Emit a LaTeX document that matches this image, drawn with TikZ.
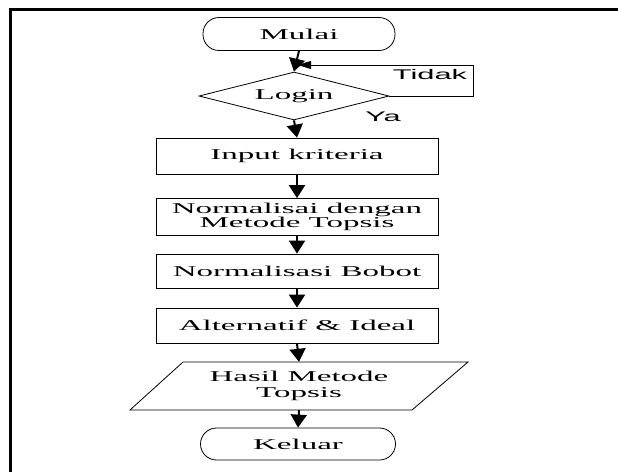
\documentclass[tikz,border=0pt]{standalone}
\usepackage{fontspec}
\setmainfont{Liberation Serif}[FakeStretch=2.2]
\newfontfamily\widesans{Liberation Sans}[FakeStretch=2.2]
\usetikzlibrary{shapes.geometric,arrows.meta}
\tikzset{
  base/.style={draw=black, line width=0.8pt, inner sep=0pt, align=center,
    font=\fontsize{15}{14.5}\selectfont},
  procbox/.style={base, rectangle, minimum width=282pt},
  term/.style={base, rectangle, rounded corners=16pt},
  decide/.style={base, diamond, aspect=4, minimum width=190pt, minimum height=48pt},
  flow/.style={line width=2pt, -{Triangle[width=16pt,length=13pt]}},
  loopline/.style={line width=0.9pt, -{Triangle[width=8pt,length=13pt]}},
  lbl/.style={font=\widesans\fontsize{14}{14}\selectfont, inner sep=0pt}
}
\begin{document}
\begin{tikzpicture}[x=1pt,y=-1pt]
\useasboundingbox (0,0) rectangle (618,472);
\fill[white] (0,0) rectangle (618,472);
% frame (top and left edges)
\draw[line width=3pt] (10,472) -- (10,9) -- (618,9);

\node[term, minimum width=192pt, minimum height=33pt] (mulai) at (299,34) {Mulai};
\node[decide] (login) at (294,96) {Login};
\node[procbox, minimum height=36pt] (input) at (297,156) {Input kriteria};
\node[procbox, minimum height=37pt] (norm) at (297,217) {Normalisai dengan\\Metode Topsis};
\node[procbox, minimum height=34pt] (bobot) at (297,271) {Normalisasi Bobot};
\node[procbox, minimum height=35pt] (alt) at (297,325.5) {Alternatif \& Ideal};
\node[inner sep=0pt, minimum width=282pt, minimum height=48pt, align=center,
  font=\fontsize{15}{15.5}\selectfont] (hasil) at (299,386) {Hasil Metode\\Topsis};
\draw[line width=0.8pt] (183,362) -- (468,362) -- (412,410) -- (130,410) -- cycle;
\node[term, minimum width=195pt, minimum height=32pt] (keluar) at (298,444) {Keluar};

\coordinate (loopend) at (298,65);
\coordinate (loopA) at (473,96);
\coordinate (loopB) at (473,65);

\draw[flow] (mulai.south) -- (login.north);
\draw[line width=0.9pt] (login.east) -- (loopA) -- (loopB);
\draw[loopline] (loopB) -- (loopend);
\draw[flow] (login.south) -- (input.north);
\draw[flow] (input.south) -- (norm.north);
\draw[flow] (norm.south) -- (bobot.north);
\draw[flow] (bobot.south) -- (alt.north);
\draw[flow] (alt.south) -- (hasil.north);
\draw[flow] (hasil.south) -- (keluar.north);

\node[lbl] (tidak) at (430,74) {Tidak};
\node[lbl] (ya) at (383,117) {Ya};
\end{tikzpicture}
\end{document}
